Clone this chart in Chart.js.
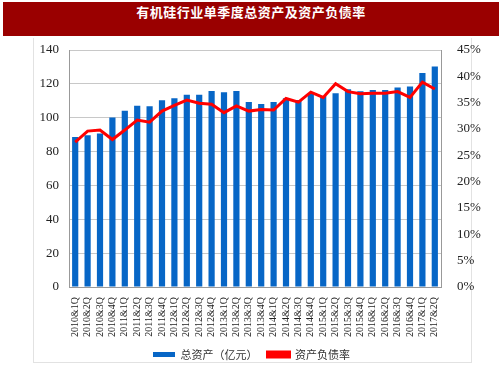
<!DOCTYPE html>
<html>
<head>
<meta charset="utf-8">
<script src="https://cdn.jsdelivr.net/npm/chart.js@4.4.0/dist/chart.umd.min.js"></script>
<style>
  html, body { margin: 0; padding: 0; background: #fff; }
  #wrap { position: relative; width: 503px; height: 378px; overflow: hidden; }
  #title {
    position: absolute; left: 3px; top: 2px; width: 496px; height: 34px;
    background: #9a0000; color: #fff; text-align: center; line-height: 34px;
    font: bold 13px "Noto Sans CJK SC", sans-serif; letter-spacing: 0.5px;
  }
  #frame {
    position: absolute; left: 33px; top: 38px; width: 437px; height: 324px;
    border: 1px solid #e2e2e2; border-top: none;
  }
  canvas { position: absolute; left: 0; top: 0; }
</style>
</head>
<body>
<div id="wrap">
  <div id="frame"></div>
  <div id="title">有机硅行业单季度总资产及资产负债率</div>
  <canvas id="c" width="503" height="378"></canvas>
</div>
<script>
// ── DATA ──
const quarters = [
  '2010&1Q','2010&2Q','2010&3Q','2010&4Q',
  '2011&1Q','2011&2Q','2011&3Q','2011&4Q',
  '2012&1Q','2012&2Q','2012&3Q','2012&4Q',
  '2013&1Q','2013&2Q','2013&3Q','2013&4Q',
  '2014&1Q','2014&2Q','2014&3Q','2014&4Q',
  '2015&1Q','2015&2Q','2015&3Q','2015&4Q',
  '2016&1Q','2016&2Q','2016&3Q','2016&4Q',
  '2017&1Q','2017&2Q'
];
const totalAssets = [
  88.6, 89.6, 90.7, 100.2, 104.1, 107.1, 106.7, 110.3, 111.5, 113.6,
  113.6, 115.8, 115.1, 115.8, 109.3, 108.1, 109.3, 111.5, 110.5, 114.5,
  112.9, 114.5, 116.8, 115.7, 116.4, 116.4, 117.8, 118.4, 126.4, 130.3
];
const debtRatio = [
  27.5, 29.6, 29.8, 28.0, 29.8, 31.7, 31.3, 33.4, 34.5, 35.5,
  34.9, 34.7, 33.1, 34.4, 33.4, 33.7, 33.6, 35.8, 35.1, 37.0,
  36.0, 38.6, 37.1, 36.7, 36.8, 36.8, 37.1, 36.0, 38.9, 37.6
];

const SERIF = "'Liberation Serif', 'DejaVu Serif', serif";
const CJK = "'Noto Sans CJK SC', sans-serif";

new Chart(document.getElementById('c').getContext('2d'), {
  data: {
    labels: quarters,
    datasets: [
      {
        type: 'line',
        label: '资产负债率',
        data: debtRatio,
        yAxisID: 'y1',
        borderColor: '#ff0000',
        backgroundColor: '#ff0000',
        borderWidth: 3,
        pointRadius: 0,
        tension: 0,
        order: 0,
      },
      {
        type: 'bar',
        label: '总资产（亿元）',
        data: totalAssets,
        yAxisID: 'y',
        backgroundColor: '#0766c6',
        borderWidth: 0,
        barPercentage: 0.5,
        categoryPercentage: 1,
        order: 1,
      },
    ],
  },
  options: {
    responsive: false,
    animation: false,
    layout: { padding: { top: 50, left: 0, right: 0, bottom: 8 } },
    plugins: {
      legend: {
        position: 'bottom',
        reverse: true,
        labels: {
          color: '#333',
          font: { family: CJK, size: 11 },
          boxWidth: 22,
          boxHeight: 5,
          padding: 10,
        },
      },
      tooltip: { enabled: false },
    },
    scales: {
      x: {
        grid: { display: false },
        border: { color: '#999' },
        ticks: {
          color: '#222',
          font: { family: SERIF, size: 10 },
          minRotation: 90,
          maxRotation: 90,
          autoSkip: false,
          padding: 2,
        },
        afterFit: s => { s.height = 52; },
      },
      y: {
        position: 'left',
        min: 0, max: 140,
        ticks: { stepSize: 20, color: '#222', font: { family: SERIF, size: 13 }, padding: 10 },
        grid: { color: '#c8c8c8', tickLength: 0, borderDash: [2, 2] },
        border: { color: '#999', dash: [] },
        afterFit: s => { s.width = 69; },
      },
      y1: {
        position: 'right',
        min: 0, max: 45,
        ticks: {
          stepSize: 5, color: '#222', font: { family: SERIF, size: 13 }, padding: 8,
          callback: v => v + '%',
        },
        grid: { display: false },
        border: { color: '#999' },
        afterFit: s => { s.width = 62; },
      },
    },
  },
});
</script>
</body>
</html>
